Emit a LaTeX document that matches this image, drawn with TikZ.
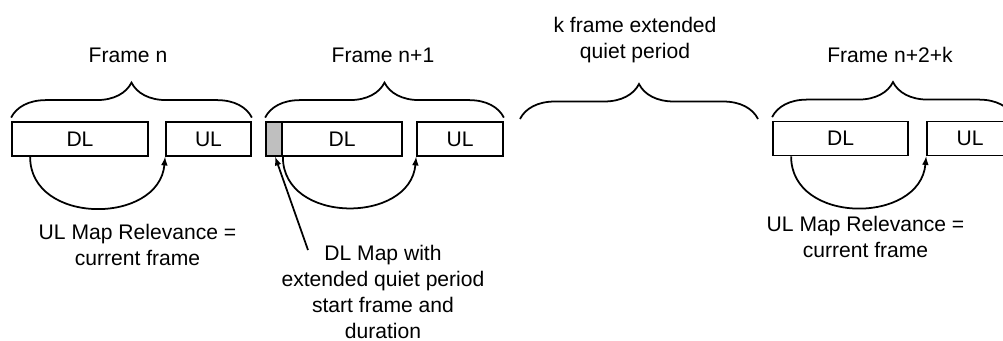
\documentclass[tikz,border=0pt]{standalone}
\usepackage{fontspec}
\setmainfont{Liberation Sans}
\usetikzlibrary{arrows,decorations.pathreplacing}

\begin{document}
\begin{tikzpicture}[x=0.03cm,y=-0.03cm,line width=1.5pt,
        kuang/.style={draw,rectangle,minimum height=1.02cm,inner sep=0pt,font=\fontsize{18}{22}\selectfont},
        wenzi/.style={align=center,inner sep=0pt,font=\fontsize{18}{22}\selectfont},
        kuohao/.style={decorate,decoration={brace,amplitude=1.05cm}},
        quxian/.style={-latex,out=-90,in=-95,looseness=1.3}]
        \useasboundingbox (0,0) rectangle (1003,341);
      %帧 n
        \node[kuang,minimum width=4.08cm](DLn) at (80,139){DL};
        \node[kuang,minimum width=2.55cm](ULn) at (208.5,139){UL};
        \draw[kuohao]([yshift=3pt]DLn.north west)--([yshift=3pt]ULn.north east);
        \node[wenzi](Tn) at (128,55){Frame n};
        \draw[quxian]([xshift=0.57cm]DLn.south west) to (ULn.south west);
        \node[wenzi](Rn) at (137.5,245){UL Map Relevance =\\current frame};
      %帧 n+1
        \node[kuang,minimum width=0.48cm,fill=black!25](Qa) at (274,139){};
        \node[kuang,minimum width=3.6cm](DLa) at (342,139){DL};
        \node[kuang,minimum width=2.58cm](ULa) at (460,139){UL};
        \draw[kuohao]([yshift=3pt]Qa.north west)--([yshift=3pt]ULa.north east);
        \node[wenzi](Ta) at (383,55){Frame n+1};
        \draw[quxian](Qa.south east) to (ULa.south west);
        \node[wenzi](Qtxt) at (383,292){DL Map with\\extended quiet period\\start frame and\\duration};
        \coordinate (zhi) at (308,250);
        \draw[-latex](zhi)--([xshift=1pt]Qa.south);
      %k 帧静默期
        \coordinate (kL) at (520,119);
        \coordinate (kR) at (758,119);
        \draw[kuohao](kL)--(kR);
        \node[wenzi](Tq) at (635,40){k frame extended\\quiet period};
      %帧 n+2+k
        \node[kuang,minimum width=4.05cm](DLk) at (840.5,138.5){DL};
        \node[kuang,minimum width=2.58cm](ULk) at (970,138.5){UL};
        \draw[kuohao]([yshift=3pt]DLk.north west)--([yshift=3pt]ULk.north east);
        \node[wenzi](Tk) at (890,55){Frame n+2+k};
        \draw[quxian]([xshift=0.57cm]DLk.south west) to (ULk.south west);
        \node[wenzi](Rk) at (865.5,237){UL Map Relevance =\\current frame};
\end{tikzpicture}
\end{document}
